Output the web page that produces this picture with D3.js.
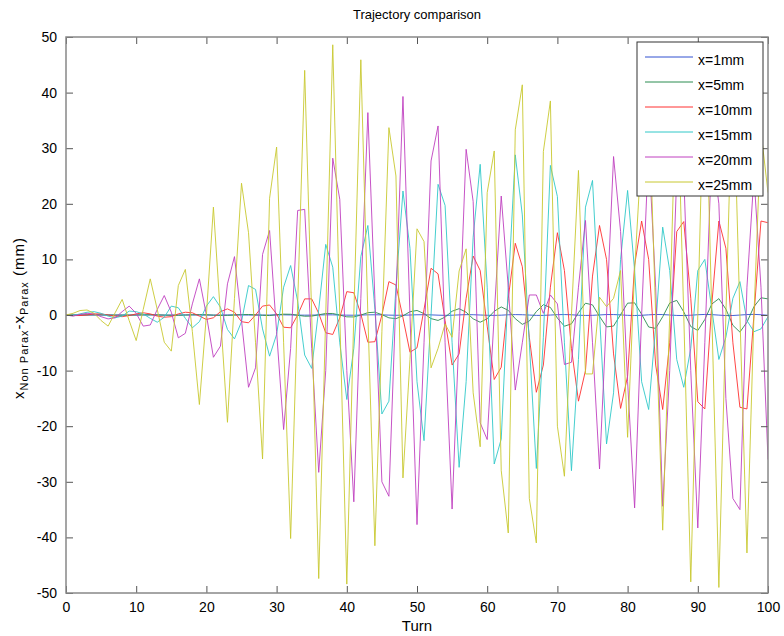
<!DOCTYPE html>
<html>
<head>
    <meta charset="utf-8">
    <title>Trajectory comparison</title>
    <style>
        body { margin: 0; background: #ffffff; }
        #chart text {
            font-family: "Liberation Sans", Arial, sans-serif;
            fill: #000000;
        }
        .line {
            fill: none;
            stroke-width: 0.9;
        }
    </style>
    <script src="https://d3js.org/d3.v7.min.js"></script>
</head>
<body>
    <div id="chart"></div>

    <script>
        // one value per turn, turn 0 .. 100
        var x1mm = [0,0,0,0,0,0,0,0,0,0,
            0,0.01,0.01,0,-0.01,-0.01,0,0.01,0.01,0,
            -0.01,-0.02,-0.01,0.01,0.02,0.01,-0.01,-0.02,-0.02,0,
            0.02,0.03,0.01,-0.02,-0.03,-0.02,0.01,0.03,0.03,0,
            -0.03,-0.04,-0.01,0.03,0.04,0.02,-0.02,-0.05,-0.04,0,
            0.04,0.05,0.02,-0.03,-0.06,-0.04,0.02,0.06,0.05,0,
            -0.05,-0.07,-0.03,0.04,0.07,0.05,-0.01,-0.07,-0.07,-0.01,
            0.06,0.08,0.04,-0.04,-0.08,-0.06,0.01,0.08,0.08,0.02,
            -0.06,-0.09,-0.05,0.03,0.09,0.08,0,-0.08,-0.1,-0.04,
            0.05,0.1,0.07,-0.02,-0.1,-0.09,-0.01,0.08,0.11,0.05,
            -0.05];
        var x5mm = [0,0,0,0.02,0.03,0.02,0,-0.02,-0.03,-0.02,
            0,0.03,0.04,0.02,-0.02,-0.05,-0.05,-0.01,0.04,0.06,
            0.04,-0.02,-0.07,-0.07,-0.01,0.07,0.09,0.05,-0.04,-0.1,
            0.04,0.15,0.13,-0.04,-0.22,-0.2,0.04,0.27,0.27,-0.02,
            -0.33,-0.35,-0.01,0.42,0.5,0.07,-0.51,-0.66,-0.15,0.59,
            0.82,0.25,-0.65,-0.98,-0.38,0.68,1.14,0.5,-0.69,-1.3,
            -0.68,0.67,1.45,0.84,-0.66,-1.68,-1.09,0.61,1.86,1.36,
            -0.55,-2.02,-1.59,0.42,2.12,1.82,-0.25,-2.14,-1.99,0.07,
            2.13,2.19,0.13,-2.16,-2.41,-0.32,2.15,2.63,0.56,-2.08,
            -2.78,-0.81,1.98,2.94,1.05,-1.86,-3.07,-1.3,1.5,3.1,
            2.9];
        var x10mm = [0,-0.1,-0.1,0,0.2,0.2,0,-0.2,-0.3,-0.1,
            0.2,0.4,0.2,-0.2,-0.4,-0.3,0.2,0.5,0.4,-0.2,
            -0.8,-0.5,0.6,1.1,0.5,-1.2,-1.4,0,1.6,1.8,
            0.2,-2.2,-2.3,0,2.9,2.9,0.3,-3.2,-3.5,-0.5,
            4.2,4.0,0.2,-4.9,-4.8,0,6.0,5.4,-0.5,-6.7,
            -5.9,1.0,8.4,7.4,-1,-9,-7,3,10.6,8,
            -2,-11.6,-9.4,3,12.9,8.7,-4,-13.9,-9,5,
            14.8,8,-6,-15.5,-10,7,16.1,10,-7,-16.8,
            -11,9,16.9,10,-9,-17,-5,15,16.8,3,
            -15.6,-16.9,2,16.9,12,-5,-16.6,-16.9,0,16.9,
            16.6];
        var x15mm = [0,-0.1,0.2,0.5,0.6,0.3,-0.2,-0.5,-0.2,0.7,
            0.6,0.2,-0.6,-1.3,-0.4,1.6,1.3,-0.6,-2.3,-1.2,
            1.6,3.3,1.4,-2.6,-4.3,-1.2,5.3,4.6,-2.5,-7.4,
            -3.5,5,8.9,2.5,-7.2,-9.6,1,12.7,8.6,-5,
            -15.2,-6,10.5,16.1,1,-17.8,-15.5,5,22.3,12,
            -12,-22.6,0,23.5,19.7,-5,-27.4,-12,14,27.1,
            5,-26.8,-22.3,5,28.8,18,-5,-27.6,-4,26.9,
            21.3,-5,-28,-8,19.4,24.2,0,-23.2,-14,10,
            22.4,8,-12,-17,-2,15.8,8,-8,-13,-6,
            8,10,1,-8,-4,3,6,-1,-3,-2.5,
            -0.3];
        var x20mm = [0,-0.2,0.1,0.3,0.2,-0.3,-0.7,-0.5,0.6,1.6,
            0.3,-2,-1.8,1,3.5,0.5,-4.1,-3.3,2,6.5,
            0,-7.6,-5.6,5.6,10.5,-1,-13,-9.5,10.9,15.2,
            -3,-20.6,-6,18.8,19,-6,-28.3,-10,28.2,20.8,
            -10,-33.6,3,36.4,3,-30,-32.6,3,39.3,0,
            -37.7,-5,27.7,34,-5,-34.9,-3,29.8,20.4,-19.4,
            -22.4,0,21.4,5,-13.5,-5,3.6,3.6,0.3,3.6,
            2,-8.9,-8.5,5,17,-5,-27.7,0,28.5,15,
            -12,-34.7,0,30,5,-34.4,-10,25,25,-10,
            -38.3,-5,30,20,-15,-33,-35,5,25,5,
            -26];
        var x25mm = [0,0.3,0.8,0.9,0.3,-1,-2,0.4,2.8,-1,
            -4.6,1,6.5,1,-4.9,-6.5,5.3,8.2,-3,-16.1,
            0,19.4,0,-19.3,3,23.7,14.8,-5,-25.9,21,
            30.2,-5,-40.2,2,44,0,-47.4,0,48.6,0,
            -48.4,0,45.9,0,-41.5,-3,33.7,25,-29.3,-8,
            15.5,13.2,-9.5,-6,-1.6,-4,7.9,11.9,-14,-23.7,
            22,29.5,-28,-39.2,33.3,41.4,-33,-41,29.4,38.5,
            -20,-29,0,26,-10.6,-10.6,3.2,1.5,3,8,
            -22,8,30,40,0,-38.7,0,45,0,-48,
            0,49,0,-49,0,45,0,-42.8,0,33,
            22];

        var seriesNames = ["x=1mm", "x=5mm", "x=10mm", "x=15mm", "x=20mm", "x=25mm"];
        var seriesValues = [x1mm, x5mm, x10mm, x15mm, x20mm, x25mm];
        var seriesColors = ["#3050d0", "#2a8c50", "#ff3030", "#30c8c8", "#c040c0", "#c8c830"];
        var xTicks = [0, 10, 20, 30, 40, 50, 60, 70, 80, 90, 100];
        var yTicks = [-50, -40, -30, -20, -10, 0, 10, 20, 30, 40, 50];

        var width = 784;
        var height = 636;
        var plotL = 66, plotR = 768, plotT = 37, plotB = 593;

        var svg = d3.select("#chart").append("svg")
            .attr("width", width)
            .attr("height", height);

        var x = d3.scaleLinear().domain([0, 100]).range([plotL, plotR]);
        var y = d3.scaleLinear().domain([-50, 50]).range([plotB, plotT]);

        svg.append("defs").append("clipPath")
            .attr("id", "plotclip")
            .append("rect")
            .attr("x", plotL).attr("y", plotT)
            .attr("width", plotR - plotL).attr("height", plotB - plotT);

        var line = d3.line()
            .x(function(d, i) { return x(i); })
            .y(function(d) { return y(d); });

        var plot = svg.append("g").attr("clip-path", "url(#plotclip)");
        seriesValues.forEach(function(vals, k) {
            plot.append("path")
                .attr("class", "line")
                .attr("d", line(vals))
                .attr("stroke", seriesColors[k]);
        });

        // axes with inward ticks on all four sides, plain hyphen for minus
        var fmt = function(d) { return String(d); };
        var axisColor = "#555555";
        var bottomAxis = svg.append("g")
            .attr("transform", "translate(0," + plotB + ")")
            .call(d3.axisBottom(x).tickValues(xTicks).tickSize(-7).tickPadding(9).tickFormat(fmt));
        var leftAxis = svg.append("g")
            .attr("transform", "translate(" + plotL + ",0)")
            .call(d3.axisLeft(y).tickValues(yTicks).tickSize(-7).tickPadding(9).tickFormat(fmt));
        var topAxis = svg.append("g")
            .attr("transform", "translate(0," + plotT + ")")
            .call(d3.axisTop(x).tickValues(xTicks).tickSize(-7).tickFormat(""));
        var rightAxis = svg.append("g")
            .attr("transform", "translate(" + plotR + ",0)")
            .call(d3.axisRight(y).tickValues(yTicks).tickSize(-7).tickFormat(""));

        [bottomAxis, leftAxis, topAxis, rightAxis].forEach(function(a) {
            a.select(".domain").remove();
            a.selectAll("line").attr("stroke", axisColor);
            a.selectAll("text")
                .style("font-size", "14px")
                .attr("fill", "#000");
        });

        svg.append("rect")
            .attr("x", plotL).attr("y", plotT)
            .attr("width", plotR - plotL).attr("height", plotB - plotT)
            .attr("fill", "none")
            .attr("stroke", "#888888")
            .attr("stroke-width", 1.5);

        // title and labels
        svg.append("text")
            .attr("x", (plotL + plotR) / 2)
            .attr("y", 19)
            .attr("text-anchor", "middle")
            .style("font-size", "13px")
            .text("Trajectory comparison");

        svg.append("text")
            .attr("x", (plotL + plotR) / 2)
            .attr("y", 631)
            .attr("text-anchor", "middle")
            .style("font-size", "15px")
            .text("Turn");

        var ylab = svg.append("text")
            .attr("transform", "translate(24,318) rotate(-90)")
            .attr("text-anchor", "middle")
            .style("font-size", "15px")
            .style("letter-spacing", "1px");
        ylab.append("tspan").text("x");
        ylab.append("tspan").attr("dy", 4).style("font-size", "11px").text("Non Parax");
        ylab.append("tspan").attr("dy", -4).text("-x");
        ylab.append("tspan").attr("dy", 4).style("font-size", "11px").text("Parax");
        ylab.append("tspan").attr("dy", -4).text(" (mm)");

        // legend
        var legend = svg.append("g");
        legend.append("rect")
            .attr("x", 637).attr("y", 42)
            .attr("width", 126).attr("height", 154)
            .attr("fill", "#ffffff")
            .attr("stroke", "#333333")
            .attr("stroke-width", 1);

        var items = legend.selectAll(".legend-item")
            .data(seriesNames)
            .enter().append("g")
            .attr("class", "legend-item")
            .attr("transform", function(d, i) { return "translate(0," + (57 + i * 25) + ")"; });

        items.append("line")
            .attr("x1", 645).attr("x2", 693)
            .attr("y1", 0).attr("y2", 0)
            .attr("stroke", function(d, i) { return seriesColors[i]; })
            .attr("stroke-width", 1);

        items.append("text")
            .attr("x", 698)
            .attr("y", 8)
            .style("font-size", "14px")
            .text(function(d) { return d; });
    </script>
</body>
</html>
